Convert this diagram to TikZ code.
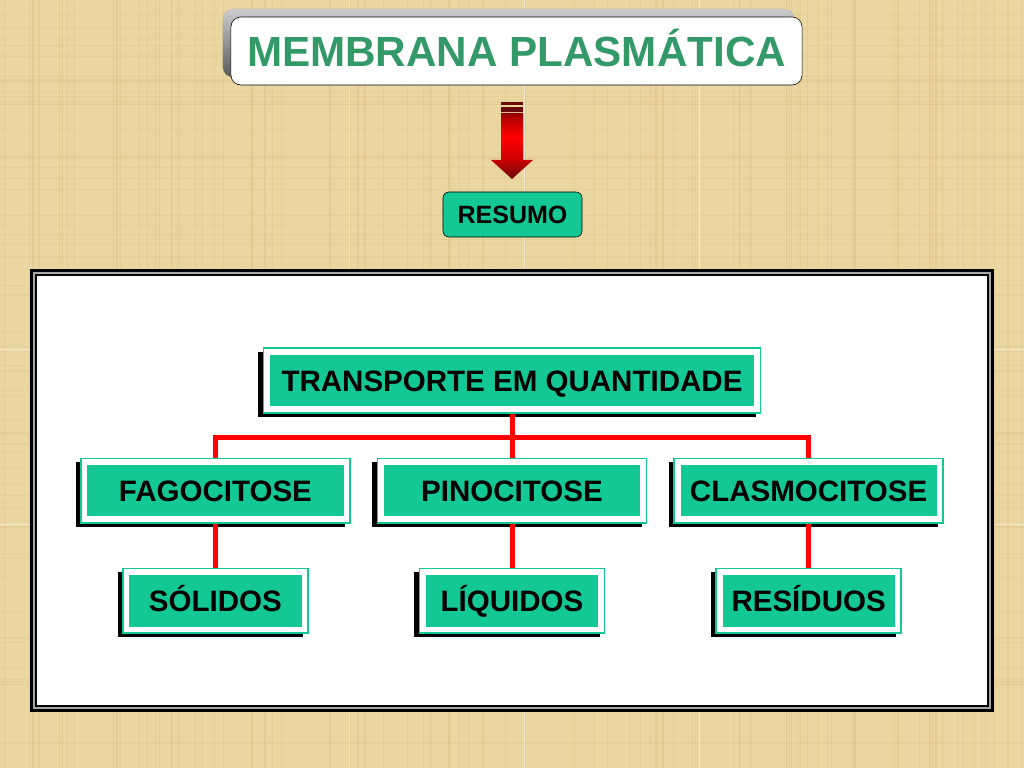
\documentclass[tikz,border=0pt]{standalone}
\usepackage{fontspec}
\setmainfont{Liberation Sans}
\usepackage{tikz}
\usetikzlibrary{positioning}
\usetikzlibrary{shadows}
\definecolor{paper}{RGB}{234,214,160}
\definecolor{boxteal}{RGB}{20,200,150}
\definecolor{titlegreen}{RGB}{51,153,102}
\definecolor{arrowdark}{RGB}{105,10,10}
\pgfdeclareverticalshading{redarrow}{100bp}{color(0bp)=(arrowdark); color(25bp)=(arrowdark); color(40bp)=(red!80!black); color(57bp)=(red); color(70bp)=(red!75!black); color(75bp)=(red!55!black); color(100bp)=(red!55!black)}
\tikzstyle{link} = [red,line width=0.125cm]
\tikzstyle{tbox} = [draw=boxteal,line width=1.1pt,fill=white,minimum height=1.6125cm,inner sep=0pt,
	text height=15pt,text depth=0pt,font=\bfseries\fontsize{21}{25}\selectfont,
	path picture={\fill[boxteal] ([shift={(0.16cm,0.16cm)}]path picture bounding box.south west) rectangle ([shift={(-0.16cm,-0.16cm)}]path picture bounding box.north east);},
	drop shadow={shadow xshift=-0.125cm,shadow yshift=-0.1cm,fill=black,opacity=1}]
\tikzstyle{ttl} = [draw,thin,fill=white,rounded corners=0.25cm,minimum width=14.275cm,minimum height=1.7cm,
	text height=21.5pt,text depth=0pt,text=titlegreen,font=\bfseries\fontsize{30}{36}\selectfont,
	drop shadow={shadow xshift=-0.2cm,shadow yshift=0.2cm,top color=black!20,bottom color=black!65,opacity=1}]
\tikzstyle{rsm} = [draw,fill=boxteal,rounded corners=0.15cm,minimum width=3.475cm,minimum height=1.125cm,
	text height=12.7pt,text depth=0pt,font=\bfseries\fontsize{17.8}{20}\selectfont]

\begin{document}
\begin{tikzpicture}[x=0.025cm,y=-0.025cm]
			%Background
			\useasboundingbox (0,0) rectangle (1024,768);
			\fill[paper] (0,0) rectangle (1024,768);
			\pgfmathsetseed{7}
			\foreach \i in {1,...,90} {
				\pgfmathsetmacro{\px}{rnd*1024}
				\draw[brown!60!paper,opacity=.18,line width=0.8pt] (\px,0) -- (\px,768);
			}
			\foreach \i in {1,...,60} {
				\pgfmathsetmacro{\py}{rnd*768}
				\draw[brown!60!paper,opacity=.12,line width=0.8pt] (0,\py) -- (1024,\py);
			}
			\foreach \x in {349,524,699} \draw[white,opacity=.5,line width=0.5pt] (\x,0) -- (\x,768);
			\foreach \y in {349,524} \draw[white,opacity=.5,line width=0.5pt] (0,\y) -- (1024,\y);
			
			%Frame
			\fill[black] (30,269) rectangle (994,712);
			\fill[black!35] (33,272) rectangle (991,709);
			\fill[black] (35,274) rectangle (989,707);
			\fill[white] (37,276) rectangle (987,705);
			
			%Nodes
			\node (title) [ttl] at (516.5,51) {MEMBRANA PLASMÁTICA};
			\node (resumo) [rsm] at (512.5,214.5) {RESUMO};
			\node (transp) [tbox,minimum width=12.425cm] at (512,380.5) {TRANSPORTE EM QUANTIDADE};
			\node (pino) [tbox,minimum width=6.725cm,below=1.1cm of transp] {PINOCITOSE};
			\node (fago) [tbox,minimum width=6.725cm,left=0.65cm of pino] {FAGOCITOSE};
			\node (clasmo) [tbox,minimum width=6.725cm,right=0.65cm of pino] {CLASMOCITOSE};
			\node (solidos) [tbox,minimum width=4.625cm,below=1.1cm of fago] {SÓLIDOS};
			\node (liquidos) [tbox,minimum width=4.625cm,below=1.1cm of pino] {LÍQUIDOS};
			\node (residuos) [tbox,minimum width=4.625cm,below=1.1cm of clasmo] {RESÍDUOS};
			
			%Arrow
			\fill[arrowdark] (501,102) rectangle (523,105);
			\fill[arrowdark] (501,107) rectangle (523,112);
			\shade[shading=redarrow]
				(501,113) -- (523,113) -- (523,160) -- (533,160) -- (512,179) -- (491,160) -- (501,160) -- cycle;
			
			%Lines
			\coordinate (bus) at (512,437);
			\draw[link] (transp.south) -- (bus);
			\draw[link] (fago.north) |- (bus) -| (clasmo.north);
			\draw[link] (bus) -- (pino.north);
			\draw[link] (fago.south) -- (solidos.north);
			\draw[link] (pino.south) -- (liquidos.north);
			\draw[link] (clasmo.south) -- (residuos.north);
\end{tikzpicture}
\end{document}
